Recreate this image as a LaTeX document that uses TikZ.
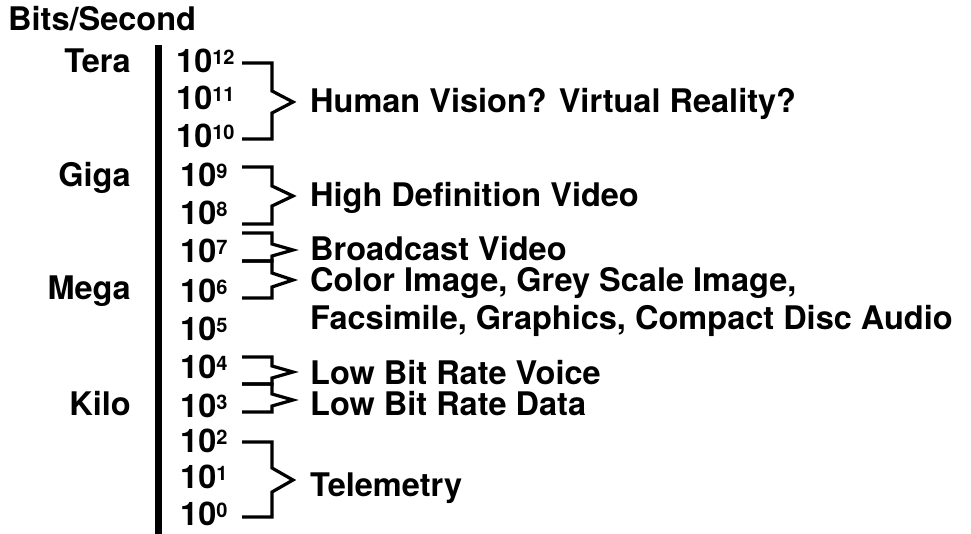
\documentclass[tikz,border=0pt]{standalone}
\usepackage{fontspec}
\setmainfont{TeX Gyre Heros}
\begin{document}
\begin{tikzpicture}[x=1pt,y=-1pt,
  lbl/.style={anchor=base west,inner sep=0pt,font=\fontsize{32.5}{36}\selectfont\bfseries},
  unit/.style={anchor=base east,inner sep=0pt,font=\fontsize{32.5}{36}\selectfont\bfseries},
  brk/.style={line width=3.2pt,line join=miter,line cap=butt}]
\useasboundingbox (0,0) rectangle (971,534);
\newcommand\pw[1]{10\raisebox{8pt}{\fontsize{20}{22}\selectfont #1}}
% title
\node[lbl] (title) at (8,31) {Bits/Second};
% axis bar
\fill (155,45) rectangle (162,534);
% prefixes
\node[unit] (tera) at (131,73) {Tera};
\node[unit] (giga) at (131,187) {Giga};
\node[unit] (mega) at (131,300) {Mega};
\node[unit] (kilo) at (131,415) {Kilo};
% powers
\node[lbl] (p12) at (176,73) {\pw{12}};
\node[lbl] (p11) at (176,110) {\pw{11}};
\node[lbl] (p10) at (176,148) {\pw{10}};
\node[lbl] (p9) at (180,187) {\pw{9}};
\node[lbl] (p8) at (180,225) {\pw{8}};
\node[lbl] (p7) at (180,263) {\pw{7}};
\node[lbl] (p6) at (180,302) {\pw{6}};
\node[lbl] (p5) at (180,340) {\pw{5}};
\node[lbl] (p4) at (180,378) {\pw{4}};
\node[lbl] (p3) at (180,417) {\pw{3}};
\node[lbl] (p2) at (180,452) {\pw{2}};
\node[lbl] (p1) at (180,488) {\pw{1}};
\node[lbl] (p0) at (180,525) {\pw{0}};
% applications
\node[lbl] (hv) at (310,113) {Human Vision? Virtual Reality?};
\node[lbl] (hd) at (310,207) {High Definition Video};
\node[lbl] (bv) at (310,261) {Broadcast Video};
\node[lbl] (ci) at (310,292) {Color Image, Grey Scale Image,};
\node[lbl] (fx) at (310,330) {Facsimile, Graphics, Compact Disc Audio};
\node[lbl] (lv) at (310,384) {Low Bit Rate Voice};
\node[lbl] (ld) at (310,415) {Low Bit Rate Data};
\node[lbl] (tm) at (310,496) {Telemetry};
% brackets
\newcommand\brk[4]{%
  \draw[brk] (242,#1) -- (272,#1) -- (272,{#3-#4}) -- (293,#3) -- (272,{#3+#4}) -- (272,#2) -- (242,#2);}
\brk{63}{139}{102}{11}
\brk{167}{224}{196}{10}
\brk{233}{261}{250}{6}
\brk{261}{298}{280}{7}
\brk{357}{384}{372}{6}
\brk{384}{412}{400}{6}
\brk{442}{517}{480}{12}
\end{tikzpicture}
\end{document}
